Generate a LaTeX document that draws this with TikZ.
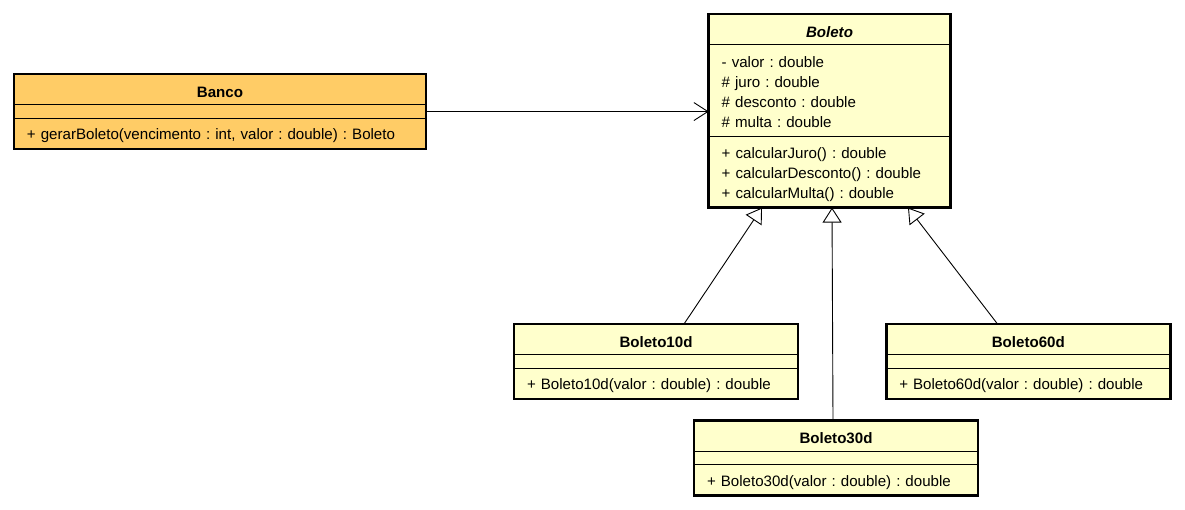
\documentclass[tikz,border=0pt]{standalone}
\usepackage{fontspec}
\setmainfont{Liberation Sans}
\usetikzlibrary{shapes.multipart,arrows.meta}
\definecolor{bancofill}{HTML}{FFCC66}
\definecolor{classfill}{HTML}{FFFFCC}
\def\hd{\rule[-6pt]{0pt}{28pt}}
\def\up{\rule{0pt}{21.5pt}}
\def\upm{\rule{0pt}{20pt}}
\def\dn{\rule[-8pt]{0pt}{8pt}}
\def\gap{\rule{0pt}{11pt}}
\def\ctr#1{\hspace*{\fill}#1\hspace*{\fill}\null}
\frenchspacing

\begin{document}
\begin{tikzpicture}[x=1pt,y=-1pt,
  umlclass/.style={draw,line width=2.7pt,fill=classfill,rectangle split,rectangle split parts=3,
    rectangle split draw splits=false,inner xsep=13pt,inner ysep=0pt,outer sep=0pt,
    anchor=north west,align=left,font=\fontsize{15.1}{20}\selectfont},
  splitline/.style={line width=0.9pt},
  gen/.style={-{Triangle[open,length=15pt,width=19pt]},line width=0.9pt},
  assoc/.style={-{Straight Barb[length=14pt,width=18pt]},line width=0.9pt}]
  \useasboundingbox (0,0) rectangle (1185,509);
  \node[umlclass,fill=bancofill,text width=386pt] (banco) at (14,74)
    {\hd\ctr{\bfseries Banco}
     \nodepart{two}\gap
     \nodepart{three}\upm+ gerarBoleto(vencimento : int, valor : double) : Boleto\dn};
  \node[umlclass,text width=215.6pt] (boleto) at (708.7,14)
    {\hd\ctr{\bfseries\itshape Boleto}
     \nodepart{two}\up- valor : double\\\# juro : double\\\# desconto : double\\\# multa : double\dn
     \nodepart{three}\upm+ calcularJuro() : double\\+ calcularDesconto() : double\\+ calcularMulta() : double\dn};
  \node[umlclass,text width=258pt] (b10) at (514,324)
    {\hd\ctr{\bfseries Boleto10d}
     \nodepart{two}\gap
     \nodepart{three}\upm+ Boleto10d(valor : double) : double\dn};
  \node[umlclass,text width=258pt] (b30) at (694,420.3)
    {\hd\ctr{\bfseries Boleto30d}
     \nodepart{two}\gap
     \nodepart{three}\upm+ Boleto30d(valor : double) : double\dn};
  \node[umlclass,text width=258pt] (b60) at (886.3,324)
    {\hd\ctr{\bfseries Boleto60d}
     \nodepart{two}\gap
     \nodepart{three}\upm+ Boleto60d(valor : double) : double\dn};
  % compartment lines
  \foreach \c in {banco,boleto,b10,b30,b60}
    \draw[splitline] (\c.one split west) -- (\c.one split east)
                     (\c.two split west) -- (\c.two split east);
  \draw[assoc] (banco.east) -- (banco.east -| boleto.west);
  \draw[gen] ([xshift=28pt]b10.north) -- ([xshift=-67.5pt]boleto.south);
  \draw[gen] ([xshift=-3pt]b30.north) -- ([xshift=2.5pt]boleto.south);
  \draw[gen] ([xshift=-30.8pt]b60.north) -- ([xshift=78.5pt]boleto.south);
\end{tikzpicture}
\end{document}
